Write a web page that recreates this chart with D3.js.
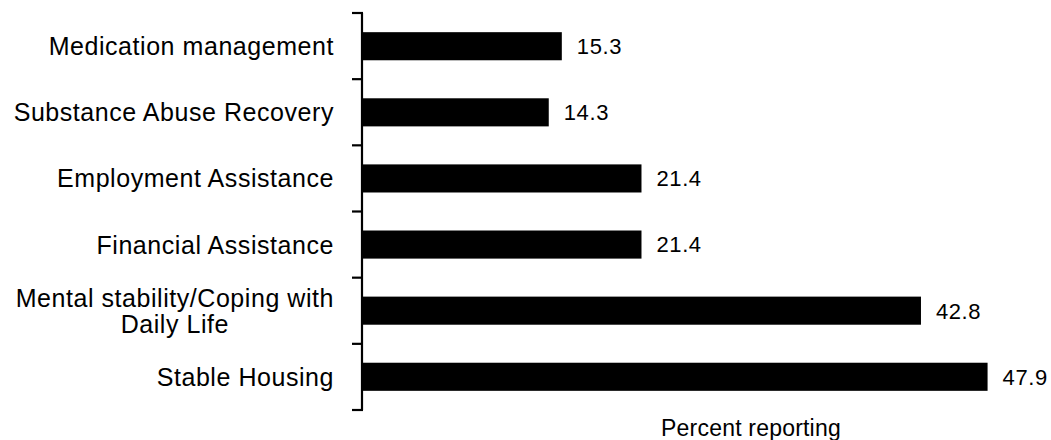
<!DOCTYPE html>
<html>
<head>
<meta charset="utf-8">
<script src="https://cdn.jsdelivr.net/npm/d3@7/dist/d3.min.js"></script>
<style>
  html, body { margin: 0; padding: 0; background: #fff; }
  svg { display: block; font-family: "Liberation Sans", Arial, sans-serif; }
</style>
</head>
<body>
<svg id="chart" width="1051" height="440"></svg>
<script>
// Categories, top to bottom; multi-line labels split with "\n"
const categories = [
  "Medication management",
  "Substance Abuse Recovery",
  "Employment Assistance",
  "Financial Assistance",
  "Mental stability/Coping with\nDaily Life",
  "Stable Housing"
];
const values = [15.3, 14.3, 21.4, 21.4, 42.8, 47.9];
const axisTitle = "Percent reporting";

const svg = d3.select("#chart");

const axisX = 362;
const plotTop = 13, plotBottom = 410;
const x = d3.scaleLinear().domain([0, 50]).range([axisX, axisX + 653]);
const y = d3.scaleBand().domain(categories).range([plotTop, plotBottom]).paddingInner(0.575).paddingOuter(0.29);

// Bars
svg.append("g").selectAll("rect")
  .data(values)
  .join("rect")
  .attr("x", x(0))
  .attr("y", (d, i) => y(categories[i]))
  .attr("width", d => x(d) - x(0))
  .attr("height", y.bandwidth())
  .attr("fill", "#000");

// Value labels
svg.append("g").selectAll("text")
  .data(values)
  .join("text")
  .attr("x", d => x(d) + 15)
  .attr("y", (d, i) => y(categories[i]) + y.bandwidth() / 2)
  .attr("dy", "0.36em")
  .attr("font-size", 22)
  .attr("letter-spacing", "0.6px")
  .attr("fill", "#000")
  .text(d => d.toFixed(1));

// Category axis: vertical line with ticks between categories
const tickYs = d3.range(categories.length + 1).map(i => plotTop + i * (plotBottom - plotTop) / categories.length);
const axisG = svg.append("g");
axisG.append("line")
  .attr("x1", axisX).attr("x2", axisX)
  .attr("y1", plotTop).attr("y2", plotBottom)
  .attr("stroke", "#000").attr("stroke-width", 2.2);
axisG.selectAll("line.tick")
  .data(tickYs)
  .join("line")
  .attr("class", "tick")
  .attr("x1", axisX - 10).attr("x2", axisX + 1)
  .attr("y1", d => d).attr("y2", d => d)
  .attr("stroke", "#000").attr("stroke-width", 2.2);

// Category labels: block right-aligned, lines centred within the block
const labelRight = 334;
const lineH = 26;
const bandCenter = c => plotTop + (categories.indexOf(c) + 0.5) * (plotBottom - plotTop) / categories.length;
categories.forEach(c => {
  const lines = c.split("\n");
  const t = svg.append("text")
    .attr("font-size", 25)
    .attr("letter-spacing", "0.55px")
    .attr("fill", "#000");
  const spans = lines.map(ln => t.append("tspan").text(ln));
  const widths = spans.map(s => s.node().getComputedTextLength());
  const maxW = d3.max(widths);
  const cy = bandCenter(c);
  spans.forEach((s, j) => {
    s.attr("x", lines.length > 1 ? labelRight - maxW / 2 : labelRight)
     .attr("y", cy + (j - (lines.length - 1) / 2) * lineH)
     .attr("dy", "0.36em");
  });
  t.attr("text-anchor", lines.length > 1 ? "middle" : "end");
});

// Axis title
svg.append("text")
  .attr("x", 751)
  .attr("y", 436)
  .attr("text-anchor", "middle")
  .attr("font-size", 23)
  .attr("letter-spacing", "0.2px")
  .attr("fill", "#000")
  .text(axisTitle);
</script>
</body>
</html>
